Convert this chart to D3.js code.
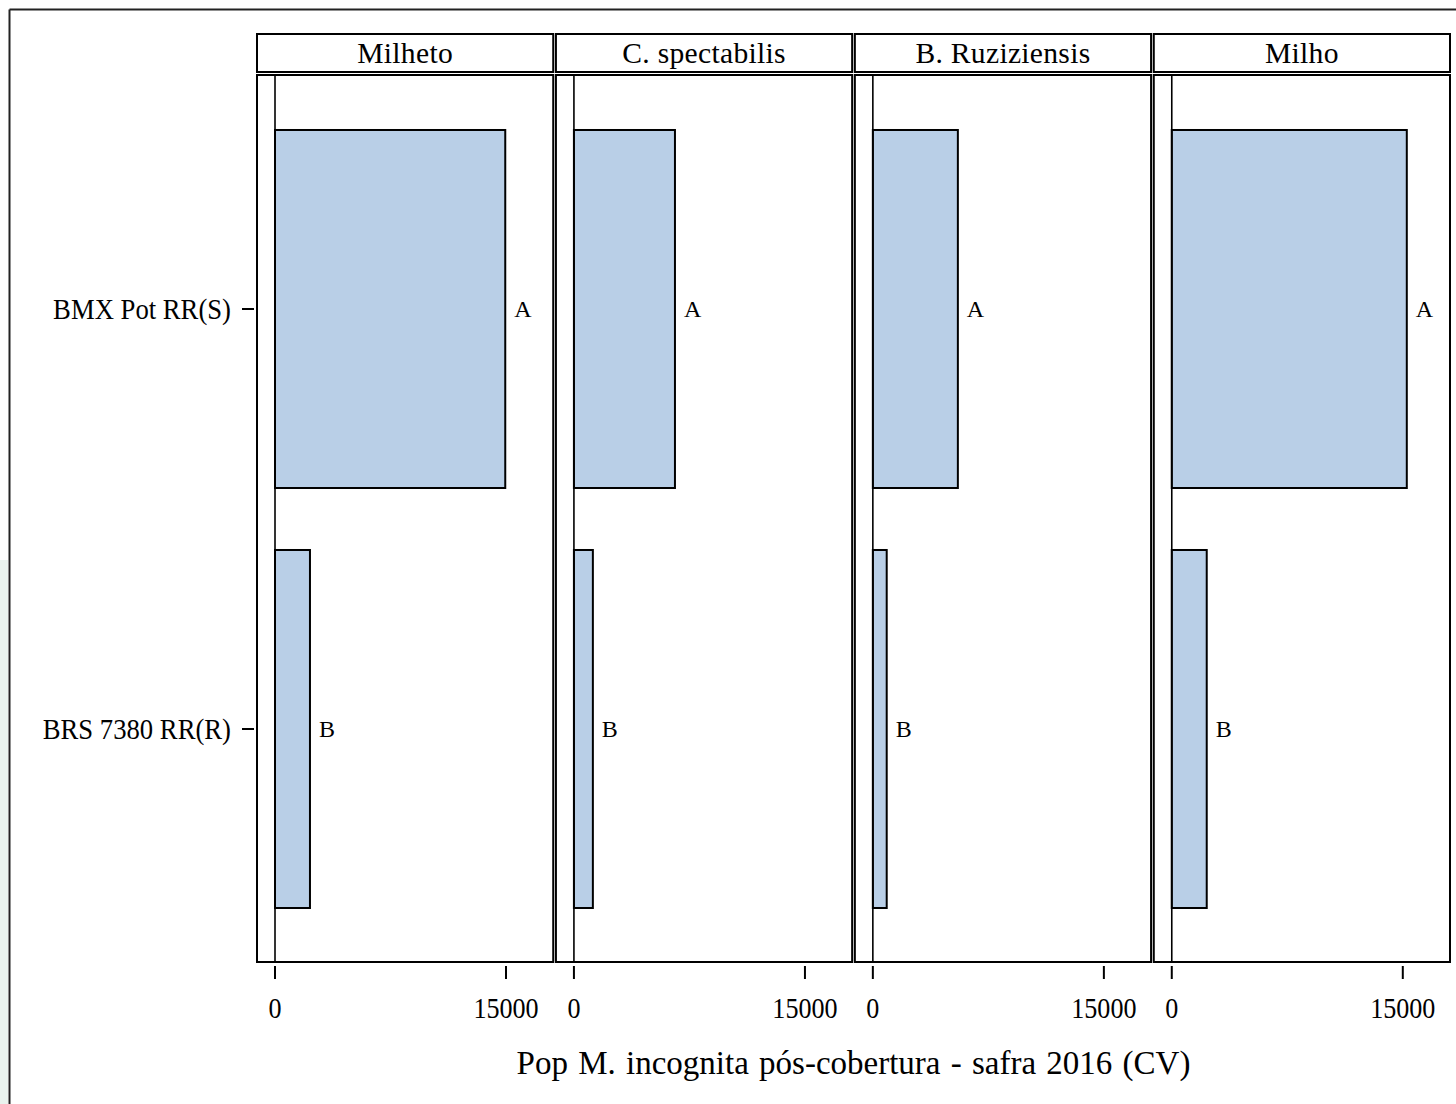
<!DOCTYPE html>
<html>
<head>
<meta charset="utf-8">
<script src="https://cdn.jsdelivr.net/npm/d3@7"></script>
<style>
  html, body { margin: 0; padding: 0; background: #fff; }
  svg { display: block; }
  text { font-family: "Liberation Serif", "Times New Roman", serif; fill: #000; }
</style>
</head>
<body>
<svg id="chart" width="1456" height="1104"></svg>
<script>
// ---- data ----
const panels = ["Milheto", "C. spectabilis", "B. Ruziziensis", "Milho"];
const cultivars = ["BMX Pot RR(S)", "BRS 7380 RR(R)"];
const bmxValues = [14950, 6560, 5520, 15260];
const brsValues = [2270, 1230, 900, 2270];
const groupLetters = ["A", "B"];
const xTicks = [0, 15000];
const xDomain = [-1169, 18065];
const axisTitle = "Pop M. incognita pós-cobertura - safra 2016 (CV)";

const rows = [];
panels.forEach((p, i) => {
  rows.push({ panel: p, cultivar: cultivars[0], value: bmxValues[i], letter: groupLetters[0] });
  rows.push({ panel: p, cultivar: cultivars[1], value: brsValues[i], letter: groupLetters[1] });
});

const svg = d3.select("#chart");

// background accents
svg.append("rect").attr("x", 0).attr("y", 560).attr("width", 8).attr("height", 544).attr("fill", "#e9f3ee");
svg.append("line").attr("x1", 9.5).attr("x2", 9.5).attr("y1", 9.5).attr("y2", 1104).attr("stroke", "#222").attr("stroke-width", 2);
svg.append("line").attr("x1", 9.5).attr("x2", 1456).attr("y1", 9.5).attr("y2", 9.5).attr("stroke", "#222").attr("stroke-width", 2);

const panelTop = 75, panelBottom = 962;
const stripTop = 34, stripBottom = 72;

const px = d3.scaleBand().domain(panels).range([257, 1450]).paddingInner(0.009);
const pw = px.bandwidth();
const x = d3.scaleLinear().domain(xDomain).range([0, pw]);
const y = d3.scaleBand().domain(cultivars).range([99, 939]).paddingInner(0.1476).paddingOuter(0.0738);

function ctext(sel, tx, ty, str, size, anchor, sx) {
  return sel.append("text")
    .attr("transform", `translate(${tx},${ty}) scale(${sx},1)`)
    .attr("text-anchor", anchor)
    .attr("font-size", size)
    .text(str);
}

panels.forEach((p, i) => {
  const g = svg.append("g").attr("transform", `translate(${px(p)},0)`);
  // strip
  g.append("rect").attr("x", 0).attr("y", stripTop).attr("width", pw).attr("height", stripBottom - stripTop)
    .attr("fill", "#fff").attr("stroke", "#000").attr("stroke-width", 2);
  ctext(g, pw / 2, 63, p, 29, "middle", 1.02).attr("letter-spacing", 0.3);

  // bars
  const data = rows.filter(r => r.panel === p);
  g.selectAll("rect.bar").data(data).join("rect").attr("class", "bar")
    .attr("x", x(0)).attr("y", d => y(d.cultivar))
    .attr("width", d => x(d.value) - x(0)).attr("height", y.bandwidth())
    .attr("fill", "#b9cfe7").attr("stroke", "#000").attr("stroke-width", 2);

  // reference line at zero
  g.append("line").attr("x1", x(0)).attr("x2", x(0)).attr("y1", panelTop).attr("y2", panelBottom)
    .attr("stroke", "#000").attr("stroke-width", 1.6);

  // letters
  data.forEach(d => {
    ctext(g, x(d.value) + 9, y(d.cultivar) + y.bandwidth() / 2 + 8, d.letter, 24, "start", 1.0);
  });

  // panel frame
  g.append("rect").attr("x", 0).attr("y", panelTop).attr("width", pw).attr("height", panelBottom - panelTop)
    .attr("fill", "none").attr("stroke", "#000").attr("stroke-width", 2);

  // x axis ticks
  const ax = g.append("g");
  xTicks.forEach(t => {
    ax.append("line").attr("x1", x(t)).attr("x2", x(t)).attr("y1", 966).attr("y2", 979)
      .attr("stroke", "#000").attr("stroke-width", 2);
    ctext(ax, x(t), 1018, d3.format("d")(t), 29, "middle", 0.9);
  });
});

// y axis ticks & labels
cultivars.forEach(c => {
  const cy = y(c) + y.bandwidth() / 2;
  svg.append("line").attr("x1", 242).attr("x2", 254).attr("y1", cy).attr("y2", cy)
    .attr("stroke", "#000").attr("stroke-width", 2);
  ctext(svg, 231, cy + 10, c, 29, "end", 0.92);
});

// axis title
ctext(svg, (px.range()[0] + px.range()[1]) / 2, 1074, axisTitle, 33, "middle", 1.0).attr("word-spacing", 2);
</script>
</body>
</html>
